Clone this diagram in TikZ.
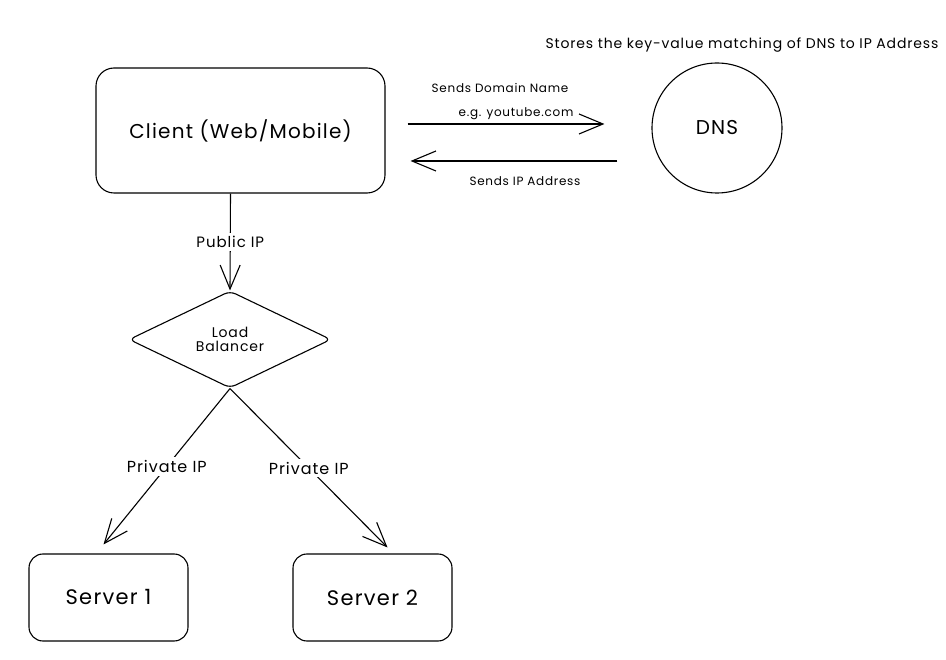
\documentclass[tikz,border=0pt]{standalone}
\usepackage{fontspec}
\setmainfont{Poppins}[LetterSpace=6]
\usetikzlibrary{positioning,arrows.meta,shapes.geometric}
\newcommand{\fsz}[1]{\fontsize{#1}{#1}\selectfont}
\tikzset{
    every node/.style={font=\fsz{12}},
    sketch/.style={draw=black,line width=1.1pt},
    roundbox/.style={sketch,rectangle,rounded corners=18pt},
    lbl/.style={fill=white,inner sep=3pt},
    flow/.style={line width=1.1pt,-{Straight Barb[length=24pt,width=20pt]}}
}
\begin{document}
\begin{tikzpicture}[x=1pt,y=-1pt]
    \useasboundingbox (0,0) rectangle (946,660);
    \node[roundbox,minimum width=289pt,minimum height=125pt,font=\fsz{20}] (client) at (240.5,130.5) {Client (Web/Mobile)};
    \node[sketch,circle,minimum size=130pt,font=\fsz{20}] (dns) at (717,128) {DNS};
    \node[font=\fsz{14}] (note) at (742,45) {Stores the key-value matching of DNS to IP Address};
    \node[sketch,diamond,aspect=2.08,minimum width=202pt,minimum height=97pt,rounded corners=6pt,align=center,font=\fsz{14}] (lb) at (230,339.5) {Load\\Balancer};
    \node[roundbox,rounded corners=14pt,minimum width=159pt,minimum height=87pt,font=\fsz{21}] (s1) at (108.5,597.5) {Server 1};
    \node[roundbox,rounded corners=14pt,minimum width=159pt,minimum height=87pt,font=\fsz{21}] (s2) at (372.5,597.5) {Server 2};
    % DNS lookup
    \node (ask) at (500,88) {Sends Domain Name};
    \node (eg) at (516,114) {e.g. youtube.com};
    \node (reply) at (525,181) {Sends IP Address};
    \draw[flow] ([xshift=22pt,yshift=6.5pt]client.east) -- ([xshift=-47pt,yshift=4pt]dns.west);
    \draw[flow] ([xshift=-34pt,yshift=-33pt]dns.west) -- ([xshift=25pt,yshift=-30.5pt]client.east);
    % routing
    \draw[flow] ([xshift=-10pt]client.south) -- node[lbl,font=\fsz{15}] (pub) {Public IP} (lb.north);
    \draw[flow] (lb.south) -- node[lbl,font=\fsz{16}] (priv1) {Private IP} ([xshift=-5pt,yshift=9pt]s1.north);
    \draw[flow] (lb.south) -- node[lbl,font=\fsz{16}] (priv2) {Private IP} ([xshift=15pt,yshift=6pt]s2.north);
\end{tikzpicture}
\end{document}
